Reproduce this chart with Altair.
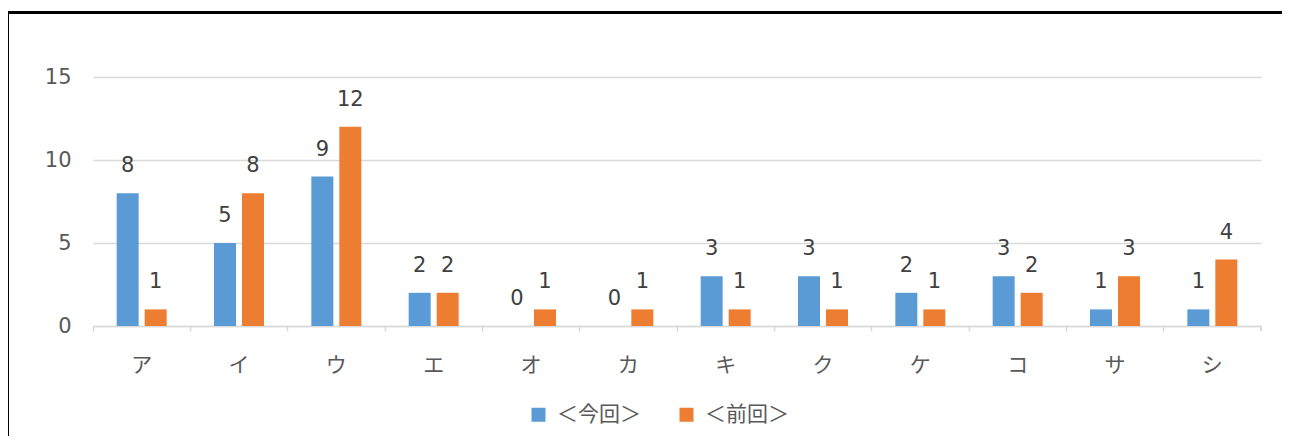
import altair as alt
import pandas as pd

categories = ["ア", "イ", "ウ", "エ", "オ", "カ", "キ", "ク", "ケ", "コ", "サ", "シ"]
series_names = ["＜今回＞", "＜前回＞"]
current_values = [8, 5, 9, 2, 0, 0, 3, 3, 2, 3, 1, 1]
previous_values = [1, 8, 12, 2, 1, 1, 1, 1, 1, 2, 3, 4]
colors = ["#5B9BD5", "#ED7D31"]

rows = []
for c, v in zip(categories, current_values):
    rows.append({"category": c, "series": series_names[0], "value": v})
for c, v in zip(categories, previous_values):
    rows.append({"category": c, "series": series_names[1], "value": v})
df = pd.DataFrame(rows)

W, H = 1168, 249
DIGIT_FONT = "DejaVu Sans, Noto Sans CJK JP"
CJK_FONT = "Noto Sans CJK JP, DejaVu Sans"

x_enc = alt.X(
    "category:N",
    sort=categories,
    scale=alt.Scale(paddingInner=0, paddingOuter=0),
    axis=alt.Axis(
        title=None,
        labelAngle=0,
        labelFont=CJK_FONT,
        labelFontSize=21,
        labelColor="#595959",
        labelPadding=23,
        ticks=True,
        tickSize=5,
        tickColor="#D9D9D9",
        tickWidth=1.5,
        bandPosition=0,
        domainColor="#D9D9D9",
        domainWidth=1.5,
        grid=False,
    ),
)
xoff_enc = alt.XOffset(
    "series:N",
    sort=series_names,
    scale=alt.Scale(paddingInner=0.214, paddingOuter=0.845),
)
y_enc = alt.Y(
    "value:Q",
    scale=alt.Scale(domain=[0, 15], nice=False),
    axis=alt.Axis(
        title=None,
        values=[0, 5, 10, 15],
        labelFont=DIGIT_FONT,
        labelFontSize=21,
        labelColor="#595959",
        labelPadding=22,
        ticks=False,
        tickSize=0,
        domain=False,
        grid=True,
        gridColor="#D9D9D9",
        gridWidth=1.5,
    ),
)

bars = alt.Chart(df).mark_bar().encode(
    x=x_enc,
    xOffset=xoff_enc,
    y=y_enc,
    color=alt.Color(
        "series:N",
        sort=series_names,
        scale=alt.Scale(domain=series_names, range=colors),
        legend=alt.Legend(
            title=None,
            orient="none",
            legendX=435,
            legendY=327,
            direction="horizontal",
            symbolType="square",
            symbolSize=196,
            symbolStrokeWidth=0,
            labelFont=CJK_FONT,
            labelFontSize=21,
            labelColor="#595959",
            labelOffset=8,
            columnPadding=35,
            padding=0,
        ),
    ),
)

labels = alt.Chart(df).mark_text(
    baseline="alphabetic",
    dy=-21,
    font=DIGIT_FONT,
    fontSize=21,
    color="#404040",
).encode(
    x=alt.X("category:N", sort=categories),
    xOffset=alt.XOffset("series:N", sort=series_names),
    y="value:Q",
    text="value:Q",
)

end_tick = alt.Chart(df).mark_rule(color="#D9D9D9", strokeWidth=1.5).encode(
    x=alt.value(W), y=alt.value(H), y2=alt.value(H + 5)
)

border = alt.Chart(df).mark_rect(
    fill="transparent", stroke="#000000", strokeWidth=2
).encode(
    x=alt.value(-85), x2=alt.value(W + 200), y=alt.value(-64.5), y2=alt.value(H + 300)
)

chart = alt.layer(border, bars, labels, end_tick).properties(
    width=W,
    height=H,
    padding={"left": 85, "top": 69, "right": 21, "bottom": 110},
    autosize=alt.AutoSizeParams(type="none"),
    background="white",
).configure_view(stroke=None)

chart.save("out.html", embed_options={"renderer": "svg", "actions": False})
